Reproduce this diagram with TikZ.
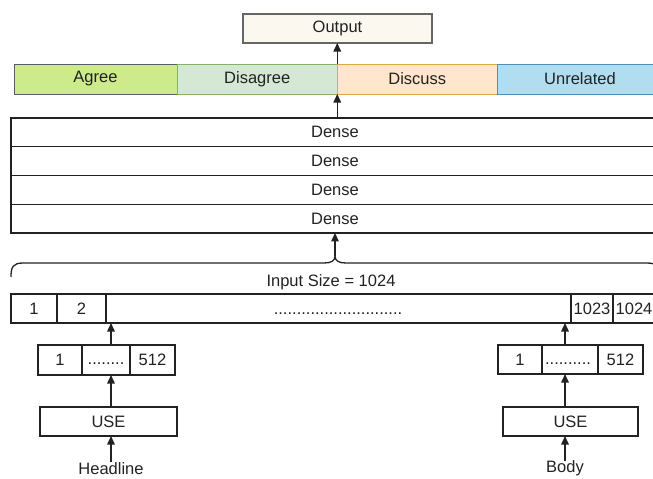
\documentclass[tikz,border=0pt]{standalone}
\usepackage{fontspec}
\setmainfont{Liberation Sans}
\usetikzlibrary{arrows.meta}
\definecolor{outfill}{HTML}{FBF8F0}
\definecolor{agreefill}{HTML}{CDEB8B}
\definecolor{agreeline}{HTML}{5A5D60}
\definecolor{disfill}{HTML}{D5E8D4}
\definecolor{disline}{HTML}{82B366}
\definecolor{discfill}{HTML}{FFE6CC}
\definecolor{discline}{HTML}{E0A840}
\definecolor{unrfill}{HTML}{B1DDF0}
\definecolor{unrline}{HTML}{4A90B8}
\definecolor{ink}{HTML}{222222}
\tikzset{
  box/.style={draw=ink, line width=1.2pt, inner sep=0pt, outer sep=0pt,
    font=\fontsize{16.5}{18}\selectfont, text=ink},
  catbox/.style={box, minimum height=30, line width=1pt},
  denserow/.style={box, minimum width=648, minimum height=28.75},
  cellbox/.style={box},
  arr/.style={draw=ink, line width=1.5pt, -{Triangle[length=8.5pt,width=7.5pt]}},
  lbl/.style={inner sep=0pt, font=\fontsize{16.5}{18}\selectfont, text=ink},
}
\begin{document}
\begin{tikzpicture}[x=1pt, y=-1pt]
\useasboundingbox (0,0) rectangle (653,479);
\clip (0,0) rectangle (653,479);

% output and class labels
\node[box, draw=black!60, fill=outfill, minimum width=189, minimum height=29] (out) at (337.5,28.5) {Output};
\node[catbox, draw=agreeline, fill=agreefill, minimum width=163] (agree) at (95.5,79) {Agree};
\node[catbox, draw=disline, fill=disfill, minimum width=160] (disagree) at (257.25,79) {Disagree};
\node[catbox, draw=discline, fill=discfill, minimum width=160] (discuss) at (417.25,79) {Discuss};
\node[catbox, draw=unrline, fill=unrfill, minimum width=166] (unrelated) at (580,79) {Unrelated};

% dense layers
\node[denserow] (d1) at (335,132.4) {Dense};
\node[denserow] (d2) at (335,161.1) {Dense};
\node[denserow] (d3) at (335,189.9) {Dense};
\node[denserow] (d4) at (335,218.6) {Dense};

% brace over the input vector
\coordinate (bt) at (335,256);
\draw[draw=ink, line width=1.3pt]
  (11,277) .. controls (11,267) and (13,263) .. (23,263) -- (324,263)
  .. controls (331,263) and (335,261) .. (bt)
  .. controls (335,261) and (339,263) .. (346,263) -- (647,263)
  .. controls (657,263) and (659,267) .. (659,277);
\node[lbl] (insize) at (331,282) {Input Size = 1024};

% concatenated input vector
\node[cellbox, minimum width=46, minimum height=29] (c1) at (34,308.5) {1};
\node[cellbox, minimum width=49, minimum height=29] (c2) at (81.5,308.5) {2};
\node[cellbox, minimum width=465, minimum height=29] (cbig) at (338.5,308.5) {};
\node[lbl, anchor=base] (cdots) at (338,314) {............................};
\node[cellbox, minimum width=42, minimum height=29] (c1023) at (592,308.5) {1023};
\node[cellbox, minimum width=42, minimum height=29] (c1024) at (634,308.5) {1024};

% headline branch
\node[cellbox, minimum width=44, minimum height=30] (hv1) at (60,360) {1};
\node[cellbox, minimum width=48, minimum height=30] (hv2) at (106,360) {};
\node[lbl, anchor=base] (hvdots) at (106,364) {........};
\node[cellbox, minimum width=45, minimum height=30] (hv3) at (152.5,360) {512};
\node[box, minimum width=137, minimum height=29] (useL) at (108.5,421.5) {USE};
\node[lbl] (hl) at (111,468.5) {Headline};

% body branch
\node[cellbox, minimum width=44, minimum height=29] (bv1) at (520,359.5) {1};
\node[cellbox, minimum width=56, minimum height=29] (bv2) at (570,359.5) {};
\node[lbl, anchor=base] (bvdots) at (568,364) {..........};
\node[cellbox, minimum width=45, minimum height=29] (bv3) at (620.5,359.5) {512};
\node[box, minimum width=135, minimum height=29] (useR) at (570.5,421.5) {USE};
\node[lbl] (body) at (565,468.5) {Body};

% connectors
\draw[arr] (hl.north) -- (useL.south -| hl.north);
\draw[arr] (useL.north -| hl.north) -- (hv2.south -| hl.north);
\draw[arr] (hv2.north -| hl.north) -- (cbig.south -| hl.north);
\draw[arr] (body.north) -- (useR.south -| body.north);
\draw[arr] (useR.north -| body.north) -- (bv2.south -| body.north);
\draw[arr] (bv2.north -| body.north) -- (cbig.south -| body.north);
\draw[arr] (bt) -- (d4.south -| bt);
\draw[arr] (d1.north -| discuss.south west) -- (discuss.south west);
\draw[arr] (discuss.north west) -- (out.south -| discuss.north west);
\end{tikzpicture}
\end{document}
